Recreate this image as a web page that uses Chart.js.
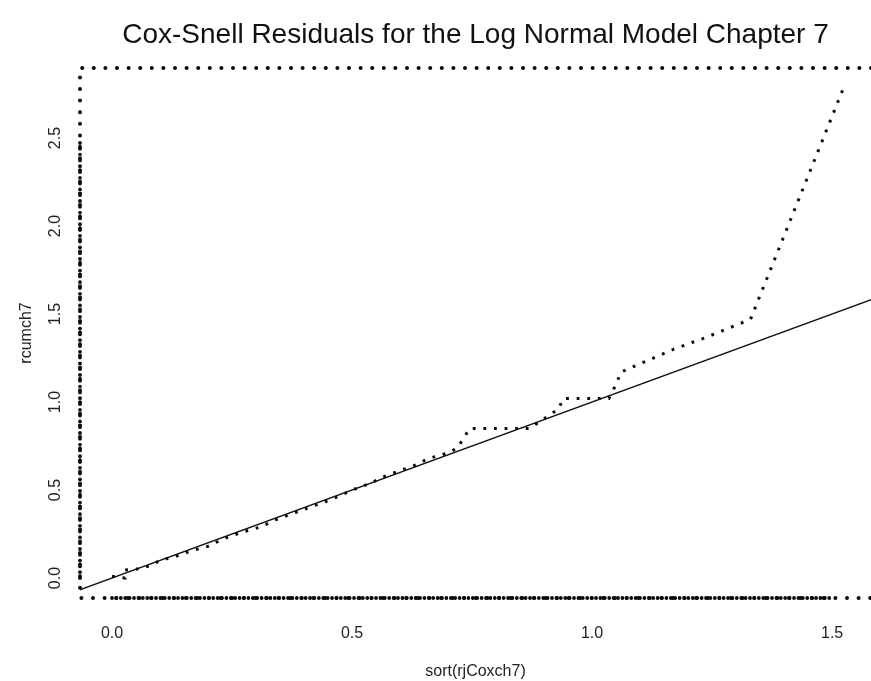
<!DOCTYPE html>
<html>
<head>
<meta charset="utf-8">
<title>Cox-Snell Residuals</title>
<script src="https://cdn.jsdelivr.net/npm/chart.js@4.4.1/dist/chart.umd.min.js"></script>
<style>
  html,body{margin:0;padding:0;background:#fff;overflow:hidden}
  #wrap{width:871px;height:681px}
</style>
</head>
<body>
<div id="wrap"><canvas id="plot" width="871" height="681"></canvas></div>
<script>
// Cox-Snell residuals vs cumulative hazard (lognormal model, ch. 7)
const el = id => document.getElementById(id);

// sorted residuals (x) and estimated cumulative hazard (y)
const residX = [0.000, 0.027, 0.027, 0.05, 0.08, 0.10, 0.13, 0.16, 0.20, 0.23, 0.27, 0.31, 0.34, 0.38,
  0.42, 0.46, 0.50, 0.54, 0.57, 0.60, 0.63, 0.66, 0.70, 0.72, 0.745, 0.87, 0.93, 0.94, 1.035,
  1.05, 1.06, 1.17, 1.24, 1.33, 1.523];
const cumHaz = [0.010, 0.000, 0.045, 0.05, 0.07, 0.10, 0.12, 0.15, 0.18, 0.22, 0.26, 0.29, 0.33, 0.37,
  0.41, 0.45, 0.50, 0.54, 0.58, 0.61, 0.64, 0.68, 0.71, 0.74, 0.85, 0.85, 0.96, 1.02, 1.02,
  1.10, 1.17, 1.30, 1.37, 1.47, 2.78];

// reference line y = x (abline(0,1))
const refX = [-0.2, 1.8];
const refY = [-0.2, 1.8];

// axis ranges and tick labels
const xRange = [-0.0667, 1.581];
const yRange = [-0.1136, 2.898];
const xTicks = [0, 0.5, 1.0, 1.5];
const yTicks = [0, 0.5, 1.0, 1.5, 2.0, 2.5];

const titleText = 'Cox-Snell Residuals for the Log Normal Model Chapter 7';
const xTitle = 'sort(rjCoxch7)';
const yTitle = 'rcumch7';

const FONT = '"Liberation Sans", Arial, sans-serif';

// dotted box + denser axis lines, like par(lty=3) in R
const dottedBox = {
  id:'dottedBox',
  afterDatasetsDraw(chart){
    const {ctx, chartArea:a, scales:{x, y}} = chart;
    ctx.save();
    ctx.strokeStyle = '#0a0a0a';
    ctx.lineCap = 'round';
    ctx.lineWidth = 4;
    ctx.setLineDash([0, 11.6]);
    ctx.beginPath();
    ctx.moveTo(a.right, a.top); ctx.lineTo(a.left, a.top); ctx.lineTo(a.left, a.bottom); ctx.lineTo(a.right, a.bottom);
    ctx.stroke();
    // axis segments between first and last tick
    ctx.lineWidth = 3.8;
    ctx.setLineDash([0, 4.4]);
    ctx.beginPath();
    ctx.moveTo(x.getPixelForValue(xTicks[0]), a.bottom);
    ctx.lineTo(x.getPixelForValue(xTicks[xTicks.length-1]), a.bottom);
    ctx.stroke();
    ctx.setLineDash([0, 5.8]);
    ctx.beginPath();
    ctx.moveTo(a.left, y.getPixelForValue(yTicks[0]));
    ctx.lineTo(a.left, y.getPixelForValue(yTicks[yTicks.length-1]));
    ctx.stroke();
    ctx.restore();
  }
};

const chart = new Chart(el('plot').getContext('2d'), {
  type:'line',
  data:{
    datasets:[
      { label:'rcumch7', data:residX.map((v,i)=>({x:v, y:cumHaz[i]})),
        borderColor:'#0a0a0a', borderWidth:3, borderDash:[2.8, 7.8], pointRadius:0, tension:0, fill:false },
      { label:'y = x', data:refX.map((v,i)=>({x:v, y:refY[i]})),
        borderColor:'#111', borderWidth:1.5, pointRadius:0, tension:0, fill:false }
    ]
  },
  plugins:[dottedBox],
  options:{
    responsive:false,
    animation:false,
    events:[],
    layout:{padding:0},
    plugins:{
      legend:{display:false},
      tooltip:{enabled:false},
      title:{
        display:true, text:titleText, fullSize:false, color:'#111',
        font:{family:FONT, size:28, weight:'normal', lineHeight:1.2},
        padding:{top:18, bottom:16.4}
      }
    },
    scales:{
      x:{
        type:'linear', min:xRange[0], max:xRange[1],
        afterBuildTicks: s => { s.ticks = xTicks.map(v=>({value:v})); },
        afterFit: s => { s.height = 83; },
        grid:{display:false, drawTicks:false},
        border:{display:false},
        ticks:{color:'#222', padding:26, font:{family:FONT, size:16}, callback:v=>v.toFixed(1)},
        title:{display:true, text:xTitle, color:'#222', padding:{top:0, bottom:0},
          font:{family:FONT, size:16, lineHeight:1.2}}
      },
      y:{
        type:'linear', min:yRange[0], max:yRange[1],
        afterBuildTicks: s => { s.ticks = yTicks.map(v=>({value:v})); },
        afterFit: s => { s.width = 80; },
        grid:{display:false, drawTicks:false},
        border:{display:false},
        ticks:{color:'#222', padding:13, minRotation:90, maxRotation:90, crossAlign:'center',
          font:{family:FONT, size:16}, callback:v=>v.toFixed(1)},
        title:{display:true, text:yTitle, color:'#222', padding:{top:17, bottom:0},
          font:{family:FONT, size:16, lineHeight:1.2}}
      }
    }
  }
});
</script>
</body>
</html>
